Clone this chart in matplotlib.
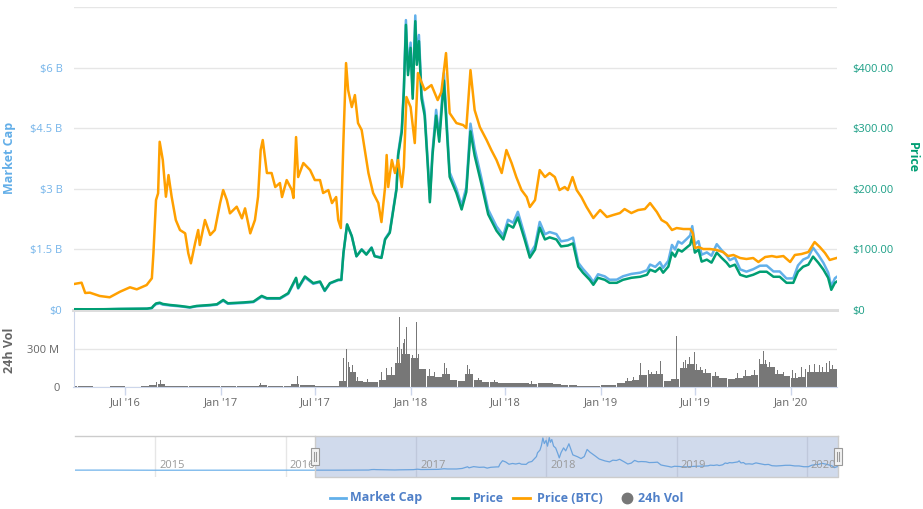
import matplotlib
matplotlib.use('Agg')
import matplotlib.pyplot as plt
from matplotlib.lines import Line2D
from matplotlib.patches import Rectangle
import pandas as pd

plt.rcParams['font.family'] = ['Open Sans', 'DejaVu Sans']

# ---------------- data ----------------
btc_dates = [
'2016-03-24','2016-04-08','2016-04-15','2016-04-24','2016-05-13','2016-06-01','2016-06-21','2016-07-10','2016-07-23','2016-08-11',
'2016-08-21','2016-08-24','2016-08-29','2016-09-02','2016-09-05','2016-09-11','2016-09-17','2016-09-22','2016-09-28','2016-10-06',
'2016-10-14','2016-10-24','2016-10-30','2016-11-04','2016-11-12','2016-11-18','2016-11-21','2016-12-01','2016-12-11','2016-12-20',
'2016-12-30','2017-01-05','2017-01-12','2017-01-18','2017-01-31','2017-02-10','2017-02-16','2017-02-26','2017-03-07','2017-03-13',
'2017-03-18','2017-03-22','2017-03-30','2017-04-08','2017-04-15','2017-04-24','2017-04-28','2017-05-07','2017-05-17','2017-05-20',
'2017-05-25','2017-05-29','2017-06-08','2017-06-21','2017-06-30','2017-07-10','2017-07-16','2017-07-26','2017-08-02','2017-08-10',
'2017-08-14','2017-08-19','2017-08-24','2017-08-29','2017-09-02','2017-09-09','2017-09-15','2017-09-21','2017-09-28','2017-10-04',
'2017-10-11','2017-10-20','2017-10-30','2017-11-05','2017-11-12','2017-11-15','2017-11-18','2017-11-25','2017-12-01','2017-12-07',
'2017-12-14','2017-12-18','2017-12-23','2017-12-31','2018-01-08','2018-01-14','2018-01-27','2018-02-09','2018-02-21','2018-02-28',
'2018-03-09','2018-03-16','2018-03-29','2018-04-11','2018-04-17','2018-04-25','2018-05-03','2018-05-13','2018-05-26','2018-06-04',
'2018-06-14','2018-06-24','2018-07-03','2018-07-13','2018-07-22','2018-08-01','2018-08-11','2018-08-17','2018-08-27','2018-09-05',
'2018-09-15','2018-09-24','2018-10-04','2018-10-13','2018-10-23','2018-10-29','2018-11-07','2018-11-15','2018-11-24','2018-12-04',
'2018-12-17','2018-12-30','2019-01-12','2019-01-24','2019-02-06','2019-02-15','2019-02-28','2019-03-13','2019-03-26','2019-04-05',
'2019-04-18','2019-04-27','2019-05-07','2019-05-17','2019-05-26','2019-06-08','2019-06-21','2019-06-26','2019-06-30','2019-07-07',
'2019-07-16','2019-07-29','2019-08-11','2019-08-23','2019-09-02','2019-09-12','2019-09-25','2019-10-07','2019-10-20','2019-10-30',
'2019-11-12','2019-11-25','2019-12-04','2019-12-17','2019-12-30','2020-01-08','2020-01-21','2020-02-03','2020-02-15','2020-02-25',
'2020-03-06','2020-03-15','2020-03-28']
btc_price = [
0.00343,0.00361,0.00225,0.00229,0.00185,0.00168,0.00242,0.00300,0.00273,0.00330,
0.00419,0.00749,0.01453,0.01542,0.02223,0.01982,0.01497,0.01783,0.01497,0.01189,
0.01057,0.01013,0.00749,0.00617,0.00881,0.01057,0.00859,0.01189,0.00991,0.01057,
0.01410,0.01585,0.01453,0.01277,0.01365,0.01211,0.01343,0.01013,0.01189,0.01497,
0.02114,0.02246,0.01810,0.01810,0.01625,0.01678,0.01493,0.01717,0.01585,0.01480,
0.02285,0.01757,0.01942,0.01849,0.01717,0.01717,0.01546,0.01585,0.01413,0.01493,
0.01189,0.01083,0.02246,0.03263,0.02906,0.02682,0.02840,0.02470,0.02378,0.02114,
0.01810,0.01546,0.01413,0.01162,0.01625,0.02048,0.01625,0.01982,0.01810,0.01982,
0.01625,0.01889,0.02814,0.02682,0.02206,0.03131,0.02906,0.02972,0.02774,0.02880,
0.03395,0.02602,0.02470,0.02444,0.02404,0.03170,0.02642,0.02417,0.02246,0.02114,
0.01982,0.01810,0.02114,0.01942,0.01757,0.01585,0.01493,0.01361,0.01453,0.01849,
0.01757,0.01810,0.01757,0.01585,0.01625,0.01585,0.01757,0.01585,0.01493,0.01361,
0.01215,0.01321,0.01229,0.01255,0.01281,0.01334,0.01281,0.01321,0.01334,0.01413,
0.01295,0.01189,0.01149,0.01057,0.01083,0.01070,0.01070,0.01017,0.00819,0.00832,
0.00806,0.00806,0.00793,0.00766,0.00713,0.00727,0.00687,0.00674,0.00687,0.00634,
0.00700,0.00713,0.00700,0.00713,0.00634,0.00727,0.00740,0.00766,0.00898,0.00832,
0.00753,0.00661,0.00687]

usd_dates = [
'2016-03-24','2016-04-20','2016-05-20','2016-06-20','2016-07-20','2016-08-12','2016-08-21','2016-08-24','2016-08-29','2016-09-05',
'2016-09-11','2016-09-25','2016-10-14','2016-11-02','2016-11-15','2016-12-11','2016-12-24','2017-01-05','2017-01-14','2017-02-13',
'2017-03-04','2017-03-20','2017-03-30','2017-04-24','2017-05-10','2017-05-25','2017-05-29','2017-06-11','2017-06-27','2017-07-10',
'2017-07-19','2017-07-29','2017-08-14','2017-08-20','2017-08-24','2017-08-31','2017-09-09','2017-09-18','2017-09-28','2017-10-07',
'2017-10-17','2017-10-23','2017-11-05','2017-11-12','2017-11-21','2017-11-28','2017-12-04','2017-12-07','2017-12-14','2017-12-18',
'2017-12-22','2017-12-26','2017-12-31','2018-01-04','2018-01-09','2018-01-12','2018-01-16','2018-01-21','2018-01-27','2018-02-02',
'2018-02-06','2018-02-11','2018-02-18','2018-02-24','2018-03-05','2018-03-10','2018-03-16','2018-03-29','2018-04-08','2018-04-17',
'2018-04-25','2018-05-03','2018-05-16','2018-05-29','2018-06-14','2018-06-27','2018-07-06','2018-07-16','2018-07-25','2018-08-07',
'2018-08-17','2018-08-27','2018-09-05','2018-09-15','2018-09-24','2018-10-07','2018-10-16','2018-10-29','2018-11-08','2018-11-18',
'2018-11-27','2018-12-10','2018-12-17','2018-12-26','2019-01-08','2019-01-17','2019-01-31','2019-02-12','2019-02-28','2019-03-17',
'2019-03-30','2019-04-05','2019-04-15','2019-04-24','2019-04-30','2019-05-10','2019-05-17','2019-05-23','2019-05-29','2019-06-05',
'2019-06-14','2019-06-21','2019-06-25','2019-06-30','2019-07-07','2019-07-13','2019-07-23','2019-08-01','2019-08-11','2019-08-20',
'2019-08-30','2019-09-05','2019-09-15','2019-09-25','2019-10-07','2019-10-20','2019-11-02','2019-11-15','2019-11-28','2019-12-10',
'2019-12-23','2020-01-05','2020-01-14','2020-01-24','2020-02-03','2020-02-12','2020-02-22','2020-03-03','2020-03-12','2020-03-18',
'2020-03-25','2020-03-28']
usd_price = [
1.3,1.2,1.3,1.8,2.1,2.3,3.5,6.7,10.8,12.1,
10.0,8.3,6.7,4.5,6.7,8.3,9.5,16.6,11.1,12.5,
13.8,23.3,19.5,19.5,27.8,53.2,36.6,55.4,44.4,47.1,
32.0,44.4,49.9,49.9,94.3,141.4,122.0,88.7,99.8,91.5,
102.7,88.7,86.0,116.5,127.6,166.4,199.7,255.0,294.0,361.0,
471.0,388.0,433.0,349.0,477.0,405.0,444.0,349.0,321.0,238.0,
178.0,255.0,321.0,278.0,379.0,305.0,220.0,193.0,166.0,195.0,
295.0,255.0,208.0,158.0,131.0,116.5,141.0,136.0,153.0,116.5,
86.5,99.8,136.0,116.5,120.0,116.5,105.0,106.5,110.0,71.6,
61.6,49.9,41.6,53.2,49.9,44.9,44.9,49.9,53.2,54.9,
58.2,66.6,63.2,69.9,61.6,71.6,94.8,88.2,99.8,96.5,
103.0,108.0,121.5,94.8,99.8,79.9,83.2,78.2,94.8,86.5,
78.2,71.6,74.9,58.2,54.9,58.2,63.2,63.2,54.9,54.9,
44.9,44.9,63.2,71.6,74.9,88.2,78.2,66.6,53.2,33.3,
44.9,46.6]
usd_mcap_b = [
0.017,0.016,0.017,0.024,0.028,0.031,0.047,0.089,0.144,0.162,
0.134,0.112,0.090,0.061,0.091,0.114,0.131,0.231,0.154,0.175,
0.195,0.331,0.278,0.279,0.400,0.771,0.531,0.806,0.648,0.692,
0.470,0.655,0.739,0.741,1.405,2.114,1.830,1.331,1.502,1.382,
1.551,1.339,1.303,1.765,1.940,2.529,3.035,3.876,4.484,5.505,
7.183,5.917,6.625,5.340,7.298,6.197,6.815,5.357,4.927,3.665,
2.741,3.927,4.959,4.295,5.875,4.728,3.410,3.001,2.590,3.042,
4.617,4.004,3.266,2.489,2.070,1.847,2.235,2.162,2.433,1.858,
1.384,1.597,2.183,1.876,1.932,1.881,1.701,1.731,1.793,1.171,
1.019,0.828,0.691,0.886,0.833,0.750,0.752,0.836,0.894,0.925,
0.984,1.126,1.068,1.185,1.044,1.217,1.612,1.499,1.697,1.645,
1.756,1.847,2.078,1.621,1.707,1.370,1.427,1.345,1.631,1.488,
1.349,1.235,1.296,1.007,0.950,1.010,1.097,1.100,0.955,0.955,
0.781,0.784,1.103,1.249,1.307,1.544,1.369,1.166,0.931,0.583,
0.786,0.816]

# navigator: earlier market cap history (billions)
nav_early_dates = ['2014-05-21','2014-06-10','2014-07-15','2014-09-01','2014-11-01','2015-01-01',
                   '2015-03-01','2015-06-01','2015-09-01','2015-12-01','2016-02-01','2016-03-10']
nav_early_mcap_b = [0.025,0.03,0.02,0.03,0.01,0.005,0.004,0.0055,0.005,0.006,0.01,0.014]

# 24h volume (millions): half-month baseline + single-day spikes
vol_periods = pd.date_range('2016-03-15', '2020-03-15', freq='SMS')
vol_base_m = [
2,2,2,1.5,1.5,2,2,1.5,1.5,2,12,25,8,4,3,3,2.5,3,4,
5,3,2.5,3,5,12,5,5,9,18,16,10,7,7,8,45,120,42,38,40,55,90,190,260,
230,140,85,75,100,55,48,100,50,40,35,32,32,30,27,25,26,27,22,14,10,9,8,8,
10,17,28,42,55,95,100,105,45,60,150,180,130,110,85,70,60,72,82,95,185,160,100,85,
70,80,115,120,120,140]
spike_dates = ['2016-08-30','2016-09-06','2017-03-18','2017-05-27','2017-06-15','2017-08-24','2017-08-29',
               '2017-09-02','2017-09-05','2017-09-10','2017-11-25','2017-12-05','2017-12-09','2017-12-13',
               '2017-12-17','2017-12-23','2017-12-28','2018-01-03','2018-01-11','2018-01-15','2018-01-20',
               '2018-03-07','2018-03-10','2018-04-20','2018-04-23','2018-10-12','2019-03-17','2019-04-08',
               '2019-04-25','2019-05-26','2019-06-20','2019-06-30','2019-07-10','2019-10-05','2019-11-01',
               '2019-11-08','2020-01-04','2020-01-20','2020-02-15','2020-03-02','2020-03-15',
               '2017-09-20','2017-10-10','2017-11-05','2017-11-15','2017-12-01','2017-12-20',
               '2018-02-05','2018-02-15','2018-05-10','2018-06-10','2018-08-20',
               '2019-02-20','2019-03-05','2019-04-02','2019-04-18','2019-06-08','2019-06-12','2019-07-03',
               '2019-07-20','2019-08-08','2019-09-20','2019-10-12','2019-10-22','2019-11-12','2019-11-20',
               '2019-12-05','2019-12-18','2020-01-10','2020-01-28','2020-02-05','2020-02-25','2020-03-09',
               '2020-03-20']
spike_vol_m = [35,53,32,85,48,227,300,200,160,174,160,320,556,300,350,481,260,254,516,260,260,
               192,147,174,140,155,192,120,206,406,235,275,160,134,220,286,134,155,182,160,206,
               80,60,120,150,250,380,
               140,120,70,55,45,
               70,75,130,125,200,215,180,
               140,120,110,120,135,215,200,
               130,120,110,140,170,175,190,
               170]

xtick_dates = ['2016-07-01','2017-01-01','2017-07-01','2018-01-01','2018-07-01','2019-01-01','2019-07-01','2020-01-01']
xtick_labels = ["Jul '16","Jan '17","Jul '17","Jan '18","Jul '18","Jan '19","Jul '19","Jan '20"]
mcap_ticks = [0, 1.5, 3, 4.5, 6, 7.5]
mcap_labels = ['$0', '$1.5 B', '$3 B', '$4.5 B', '$6 B', '']
price_ticks = [0, 100, 200, 300, 400, 500]
price_labels = ['$0', '$100.00', '$200.00', '$300.00', '$400.00', '']
nav_years = ['2015', '2016', '2017', '2018', '2019', '2020']

# ---------------- styling ----------------
C_MCAP = '#62b0ea'
C_PRICE = '#009e73'
C_BTC = '#ffa000'
C_VOL = '#777777'
C_GRID = '#e6e6e6'
C_AXIS = '#ccd6eb'
C_LEG = '#5080c8'
LW = 1.8

W, H = 923, 509
fig = plt.figure(figsize=(W / 100, H / 100), dpi=100)

def fx(px):
    return px / W

def fy(py):
    return 1 - py / H

L, R = 73.5, 837.0
xmin, xmax = pd.Timestamp('2016-03-23 12:00'), pd.Timestamp('2020-03-29')

ud = pd.to_datetime(usd_dates)
bd = pd.to_datetime(btc_dates)

# ---- main panel ----
ax = fig.add_axes([fx(L), fy(310), fx(R - L), (310 - 7.3) / H])
ax.set_xlim(xmin, xmax)
ax.set_ylim(0, 7.5)
ax.set_yticks(mcap_ticks)
ax.set_yticklabels(mcap_labels)
ax.grid(axis='y', color=C_GRID, lw=1)
ax.set_axisbelow(True)
for s in ['top', 'right', 'left']:
    ax.spines[s].set_visible(False)
ax.spines['bottom'].set_color('#dddddd')
ax.spines['bottom'].set_linewidth(2.2)
ax.tick_params(axis='y', length=0, pad=8, labelsize=8, labelcolor='#74b4ea')
ax.tick_params(axis='x', length=0, labelbottom=False)
ax.plot(ud, usd_mcap_b, color=C_MCAP, lw=LW, solid_joinstyle='round', zorder=3)

ax2 = ax.twinx()
ax2.set_ylim(0, 500)
ax2.set_yticks(price_ticks)
ax2.set_yticklabels(price_labels)
for s in ax2.spines.values():
    s.set_visible(False)
ax2.tick_params(axis='y', length=0, pad=11, labelsize=8, labelcolor='#1a9e85')
ax2.plot(ud, usd_price, color=C_PRICE, lw=LW, solid_joinstyle='round')

ax3 = ax.twinx()
ax3.set_ylim(0, 0.04)
ax3.axis('off')
ax3.plot(bd, btc_price, color=C_BTC, lw=LW, solid_joinstyle='round')

# ---- volume panel ----
axv = fig.add_axes([fx(L), fy(386.7), fx(R - L), (386.7 - 311.8) / H])
axv.set_xlim(xmin, xmax)
axv.set_ylim(0, 600)
axv.bar(vol_periods, vol_base_m, width=15.2, align='edge', color=C_VOL, lw=0)
axv.bar(pd.to_datetime(spike_dates), spike_vol_m, width=1.8, color=C_VOL, lw=0)
axv.set_yticks([0, 300])
axv.set_yticklabels(['0', '300 M'])
axv.grid(axis='y', color=C_GRID, lw=1)
axv.set_axisbelow(True)
for s in ['top', 'right']:
    axv.spines[s].set_visible(False)
axv.spines['left'].set_color(C_AXIS)
axv.spines['bottom'].set_color(C_AXIS)
axv.tick_params(axis='y', length=0, pad=10, labelsize=8, labelcolor='#666666')
axv.set_xticks(pd.to_datetime(xtick_dates))
axv.set_xticklabels(xtick_labels)
axv.tick_params(axis='x', direction='out', length=5.5, width=1, color=C_AXIS,
                pad=2, labelsize=8, labelcolor='#666666')

# ---- axis titles ----
fig.text(fx(10), fy(158), 'Market Cap', rotation=90, ha='center', va='center',
         fontsize=9, fontweight='bold', color='#62aee8')
fig.text(fx(912), fy(157), 'Price', rotation=270, ha='center', va='center',
         fontsize=9, fontweight='bold', color=C_PRICE)
fig.text(fx(10), fy(350), '24h Vol', rotation=90, ha='center', va='center',
         fontsize=9, fontweight='bold', color='#666666')

# ---- navigator ----
axn = fig.add_axes([fx(75), fy(477), fx(838 - 75), 41 / H])
nxmin, nxmax = pd.Timestamp('2014-05-21'), pd.Timestamp('2020-03-28')
axn.set_xlim(nxmin, nxmax)
axn.set_ylim(-1.5, 7.6)
axn.axis('off')
for yr in nav_years:
    d = pd.Timestamp(yr + '-01-01')
    axn.axvline(d, color=C_GRID, lw=1, zorder=0)
    axn.text(d + pd.Timedelta(days=11), 0.27, yr, transform=axn.get_xaxis_transform(),
             ha='left', va='center', fontsize=8, color='#999999', zorder=5)
nav_d = list(pd.to_datetime(nav_early_dates)) + list(ud)
nav_v = list(nav_early_mcap_b) + list(usd_mcap_b)
axn.plot(nav_d, nav_v, color='#6fb2ea', lw=0.9, zorder=2)
axn.axvspan(xmin, nxmax, color=(102/255, 133/255, 194/255, 0.3), lw=0, zorder=3)
tr = axn.get_xaxis_transform()
axn.plot([nxmin, nxmax], [1, 1], transform=tr, color='#cccccc', lw=1, clip_on=False, zorder=4)
axn.plot([xmin, xmin, nxmax, nxmax], [1, 0, 0, 1], transform=tr, color='#cccccc', lw=1,
         clip_on=False, zorder=4)
for hx in [xmin, nxmax]:
    axn.add_patch(Rectangle((hx - pd.Timedelta(days=10), 0.3), pd.Timedelta(days=20), 0.4,
                            transform=tr, facecolor='#f2f2f2', edgecolor='#999999', lw=0.8,
                            clip_on=False, zorder=6))
    for off in (-3, 3):
        axn.plot([hx + pd.Timedelta(days=off)] * 2, [0.4, 0.6], transform=tr, color='#999999',
                 lw=0.8, clip_on=False, zorder=7)

# ---- legend ----
ly = 498
for x0, x1, col in [(330, 346, C_MCAP), (452, 468, C_PRICE), (513, 530, C_BTC)]:
    fig.add_artist(Line2D([fx(x0), fx(x1)], [fy(ly), fy(ly)], color=col, lw=2,
                          transform=fig.transFigure))
fig.add_artist(Line2D([fx(627)], [fy(ly)], marker='o', markersize=7.5, color=C_VOL,
                      lw=0, transform=fig.transFigure))
for x, t in [(350, 'Market Cap'), (473, 'Price'), (537, 'Price (BTC)'), (638, '24h Vol')]:
    fig.text(fx(x), fy(ly), t, ha='left', va='center', fontsize=9, fontweight='bold', color=C_LEG)

fig.savefig('out.png', dpi=100)
